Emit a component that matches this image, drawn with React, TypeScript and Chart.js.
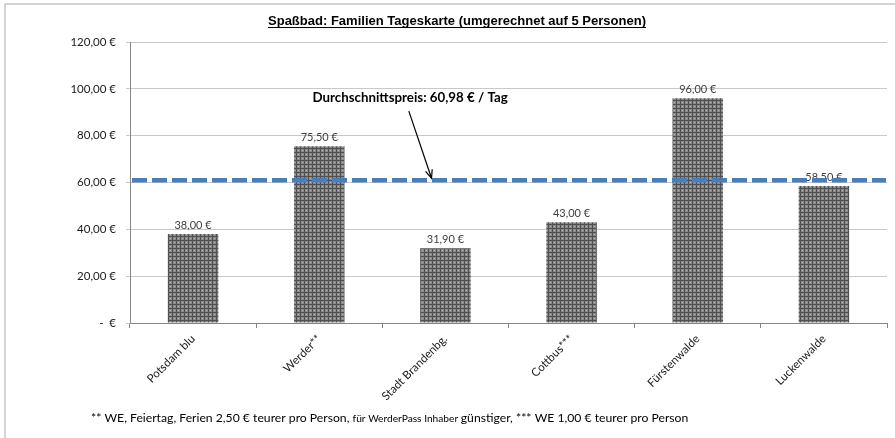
import React, { useEffect, useRef } from "react";
import { Chart, registerables } from "chart.js";

Chart.register(...registerables);

const categories = ["Potsdam blu", "Werder**", "Stadt Brandenbg.", "Cottbus***", "Fürstenwalde", "Luckenwalde"];
const prices = [38.0, 75.5, 31.9, 43.0, 96.0, 58.5];
const averagePrice = 60.98;
const yTicks = [0, 20, 40, 60, 80, 100, 120];
const titleText = "Spaßbad: Familien Tageskarte (umgerechnet auf 5 Personen)";
const annotationText = "Durchschnittspreis: 60,98 € / Tag";
const footParts = [
  { text: "** WE, Feiertag, Ferien 2,50 € teurer pro Person, ", size: 12.2 },
  { text: "für WerderPass Inhaber ", size: 10.2 },
  { text: "günstiger, *** WE 1,00 € teurer pro Person", size: 12.2 },
];

const FONT = "Lato, 'Open Sans', sans-serif";

function euro(v: number): string {
  if (v === 0) return "-  €";
  return v.toFixed(2).replace(".", ",") + " €";
}

function makePattern(): CanvasPattern | string {
  const c = document.createElement("canvas");
  c.width = 4;
  c.height = 4;
  const g = c.getContext("2d");
  if (!g) return "#777";
  g.fillStyle = "#8a8a8a";
  g.fillRect(0, 0, 4, 4);
  g.fillStyle = "#505050";
  g.fillRect(0, 0, 1, 4);
  g.fillRect(0, 0, 4, 1);
  g.fillStyle = "#b4b4b4";
  g.fillRect(2, 2, 1, 1);
  const p = g.createPattern(c, "repeat");
  return p || "#777";
}

const decorPlugin = {
  id: "decor",
  beforeDraw(chart: any) {
    const ctx = chart.ctx;
    ctx.save();
    ctx.fillStyle = "#ffffff";
    ctx.fillRect(0, 0, chart.width, chart.height);
    ctx.strokeStyle = "#c6c6c6";
    ctx.lineWidth = 1.5;
    ctx.beginPath();
    ctx.moveTo(5, chart.height);
    ctx.lineTo(5, 4);
    ctx.lineTo(chart.width, 4);
    ctx.stroke();
    ctx.restore();
  },
  afterDatasetsDraw(chart: any) {
    const ctx = chart.ctx;
    const x = chart.scales.x;
    const y = chart.scales.y;
    const area = chart.chartArea;
    ctx.save();
    // data labels
    ctx.font = "11px " + FONT;
    ctx.fillStyle = "#404040";
    ctx.textAlign = "center";
    ctx.textBaseline = "alphabetic";
    const meta = chart.getDatasetMeta(0);
    meta.data.forEach((bar: any, i: number) => {
      ctx.fillText(euro(prices[i]), bar.x, bar.y - 5);
    });
    // average line
    const ay = y.getPixelForValue(averagePrice);
    ctx.strokeStyle = "#4a7ebb";
    ctx.lineWidth = 4.5;
    ctx.setLineDash([15, 5]);
    ctx.beginPath();
    ctx.moveTo(area.left + 2, ay);
    ctx.lineTo(area.right - 1, ay);
    ctx.stroke();
    ctx.setLineDash([]);
    // annotation
    const tx = x.getPixelForValue(1.72);
    const ty = y.getPixelForValue(94.2);
    ctx.font = "bold 13.3px " + FONT;
    ctx.fillStyle = "#000000";
    ctx.textAlign = "center";
    ctx.fillText(annotationText, tx, ty);
    const sx = x.getPixelForValue(1.71);
    const sy = y.getPixelForValue(90.5);
    const ex = x.getPixelForValue(1.89);
    const ey = ay - 2;
    ctx.strokeStyle = "#000000";
    ctx.lineWidth = 1.2;
    ctx.beginPath();
    ctx.moveTo(sx, sy);
    ctx.lineTo(ex, ey);
    ctx.stroke();
    const ang = Math.atan2(ey - sy, ex - sx);
    const L = 9;
    ctx.beginPath();
    ctx.moveTo(ex - L * Math.cos(ang - 0.4), ey - L * Math.sin(ang - 0.4));
    ctx.lineTo(ex, ey);
    ctx.lineTo(ex - L * Math.cos(ang + 0.4), ey - L * Math.sin(ang + 0.4));
    ctx.stroke();
    // title
    ctx.font = "bold 13px 'Liberation Sans Narrow', 'Liberation Sans', Arial, sans-serif";
    ctx.fillStyle = "#000000";
    ctx.textAlign = "left";
    const tw = ctx.measureText(titleText).width;
    const target = 378;
    const sc = target / tw;
    const tcx = 457;
    ctx.save();
    ctx.translate(tcx - target / 2, 25);
    ctx.scale(sc, 1);
    ctx.fillText(titleText, 0, 0);
    ctx.restore();
    ctx.lineWidth = 1;
    ctx.beginPath();
    ctx.moveTo(tcx - target / 2, 27.5);
    ctx.lineTo(tcx + target / 2, 27.5);
    ctx.stroke();
    // footnote
    let fx = 91;
    const fy = 422;
    ctx.fillStyle = "#000000";
    footParts.forEach((p) => {
      ctx.font = p.size + "px " + FONT;
      ctx.fillText(p.text, fx, fy);
      fx += ctx.measureText(p.text).width;
    });
    ctx.restore();
  },
};

export default function App() {
  const ref = useRef<HTMLCanvasElement | null>(null);
  useEffect(() => {
    if (!ref.current) return;
    const chart = new Chart(ref.current, {
      type: "bar",
      data: {
        labels: categories,
        datasets: [
          {
            data: prices,
            backgroundColor: makePattern() as any,
            borderWidth: 0,
            categoryPercentage: 1,
            barPercentage: 0.4,
          },
        ],
      },
      options: {
        responsive: false,
        animation: false,
        devicePixelRatio: 1,
        layout: { padding: { left: 0, top: 42, right: 8, bottom: 0 } },
        plugins: {
          legend: { display: false },
          tooltip: { enabled: false },
          title: { display: false },
        },
        scales: {
          x: {
            grid: {
              display: true,
              drawOnChartArea: false,
              tickLength: 5,
              color: "#868686",
            },
            border: { color: "#868686", width: 1 },
            ticks: {
              minRotation: 45,
              maxRotation: 45,
              autoSkip: false,
              padding: 4,
              color: "#1a1a1a",
              font: { family: FONT, size: 11.5 },
            },
            afterFit(scale: any) {
              scale.height = 115;
            },
          },
          y: {
            min: 0,
            max: 120,
            afterBuildTicks(scale: any) {
              scale.ticks = yTicks.map((v) => ({ value: v }));
            },
            grid: { color: "#c8c8c8", tickLength: 4, lineWidth: 1 },
            border: { color: "#868686", width: 1 },
            ticks: {
              padding: 10,
              color: "#1a1a1a",
              font: { family: FONT, size: 11.5 },
              callback: (v: any) => euro(Number(v)),
            },
            afterFit(scale: any) {
              scale.width = 130;
            },
          },
        },
      },
      plugins: [decorPlugin],
    });
    return () => chart.destroy();
  }, []);
  return (
    <div style={{ position: "fixed", left: 0, top: 0, width: 895, height: 438, background: "#fff" }}>
      <canvas ref={ref} width={895} height={438} style={{ display: "block", width: 895, height: 438 }} />
    </div>
  );
}
